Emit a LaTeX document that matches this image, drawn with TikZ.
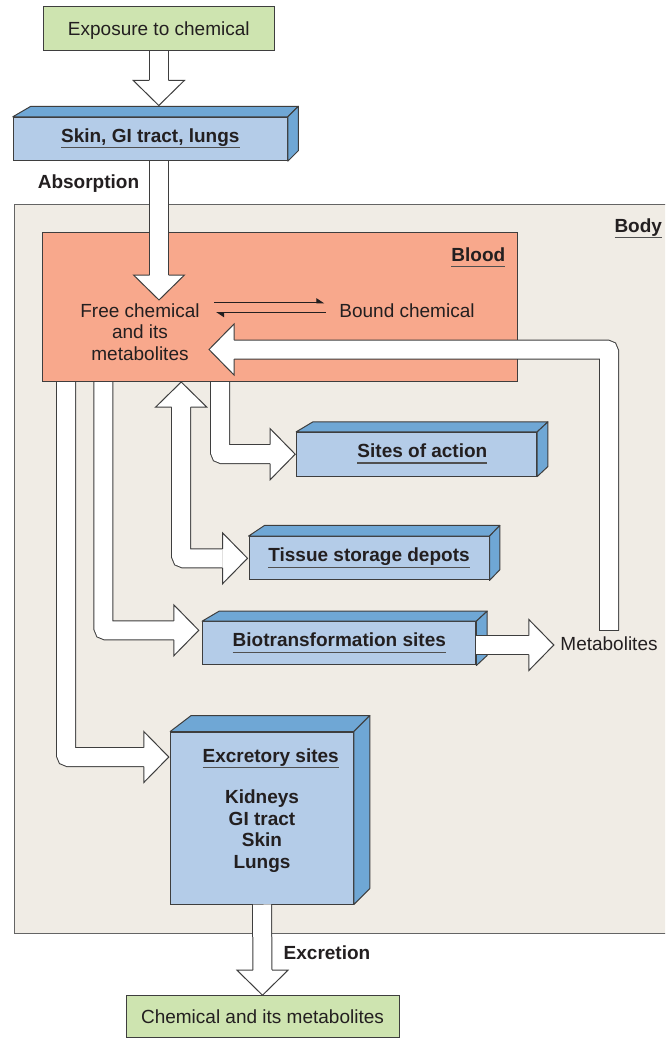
\documentclass[tikz,border=0pt]{standalone}
\usepackage{fontspec}
\setmainfont{Liberation Sans}
\usepackage{xcolor}
\usepackage{tikz}
\usetikzlibrary{arrows.meta,positioning,calc}

\definecolor{ink}{RGB}{35,31,32}
\definecolor{edge}{RGB}{62,62,62}
\definecolor{bodyedge}{RGB}{100,100,100}
\definecolor{ulgray}{RGB}{80,80,80}
\definecolor{expogreen}{RGB}{206,228,176}
\definecolor{slabfront}{RGB}{180,204,232}
\definecolor{slabside}{RGB}{111,167,213}
\definecolor{bloodfill}{RGB}{248,168,140}
\definecolor{bodyfill}{RGB}{240,236,229}

\newcommand\figfont{\fontsize{19}{21.7}\selectfont}
% underlined heading, rule at a fixed depth
\newcommand\ulbl[1]{\leavevmode\setbox0=\hbox{#1}\rlap{\color{ulgray}\rule[-6.2pt]{\wd0}{1.2pt}}\box0}
% top and right faces of a 3D slab: node, left dx, right dx, depth
\newcommand\slabfaces[4]{%
  \filldraw[slabside, draw=edge, line width=1pt, line join=round] (#1.north west) -- ++(#2,-#4) -- ($(#1.north east)+(#3,-#4)$) -- (#1.north east) -- cycle;
  \filldraw[slabside, draw=edge, line width=1pt, line join=round] (#1.north east) -- ++(#3,-#4) -- ($(#1.south east)+(#3,-#4)$) -- (#1.south east) -- cycle;}
% head of a fat arrow, tip at #1, pointing at angle #2
\newcommand\drawhead[2]{\draw[fathead, shift={(#1)}, rotate=#2] (-25,9.5) -- (-25,25.5) -- (0,0) -- (-25,-25.5) -- (-25,-9.5);}

\begin{document}
\begin{tikzpicture}[
    x=1pt, y=-1pt,
    font=\figfont,
    txt/.style={text=ink, inner sep=0pt, text height=15pt, text depth=0.6pt},
    boldtxt/.style={txt, font=\figfont\bfseries},
    startbox/.style={rectangle, draw=edge, fill=expogreen, line width=1pt, txt},
    slab/.style={rectangle, draw=edge, fill=slabfront, line width=1pt, inner sep=0pt, text=ink, font=\figfont\bfseries, text height=13pt, text depth=6.5pt},
    fatshaft/.style={draw=edge, line width=1pt, double=white, double distance=18pt, rounded corners=2.5pt},
    fathead/.style={draw=edge, fill=white, line width=1pt, line join=miter},
    harp/.style={draw=ink, line width=1.2pt, -{Triangle[left, length=7pt, width=9pt]}}
]
    \useasboundingbox (0,0) rectangle (665,1038);
    \clip (0,0) rectangle (665,1038);
    \fill[white] (0,0) rectangle (665,1038);

    % body and blood compartments
    \node[rectangle, draw=bodyedge, fill=bodyfill, line width=1pt, minimum width=667pt, minimum height=729pt] (body) at (347.5,568.5) {};
    \node[rectangle, draw=edge, fill=bloodfill, line width=1pt, minimum width=475.3pt, minimum height=148.8pt] (blood) at (280.05,307.1) {};
    \node[boldtxt, anchor=base east] (bodylbl) at ([xshift=-19.3pt,yshift=-28.7pt]body.north east) {\ulbl{Body}};
    \node[boldtxt, anchor=base east] (bloodlbl) at ([xshift=-12.7pt,yshift=-29pt]blood.north east) {\ulbl{Blood}};

    % entry and exit
    \node[startbox, minimum width=231pt, minimum height=44pt] (expo) at (158.8,28.7) {Exposure to chemical};
    \node[startbox, minimum width=273pt, minimum height=41.8pt] (chem) at (262.5,1016.6) {Chemical and its metabolites};

    % slabs
    \node[slab, minimum width=274pt, minimum height=43.4pt] (skin) at (150.3,139) {\ulbl{Skin, GI tract, lungs}};
    \node[slab, minimum width=240pt, minimum height=43.7pt] (sites) at (416.7,454.2) {\hspace*{11.4pt}\ulbl{Sites of action}};
    \node[slab, minimum width=240pt, minimum height=43.3pt] (tissue) at (369,558.3) {\ulbl{Tissue storage depots}};
    \node[slab, minimum width=273.3pt, minimum height=43.3pt] (biotrans) at (339.3,643.3) {\ulbl{Biotransformation sites}};
    \node[slab, minimum width=182.6pt, minimum height=172pt] (excr) at (262,818) {};
    \slabfaces{skin}{18}{10.5}{10.5}
    \slabfaces{sites}{16.7}{10.7}{10}
    \slabfaces{tissue}{16}{10.3}{10.7}
    \slabfaces{biotrans}{17}{10.7}{10}
    \slabfaces{excr}{21}{16}{16}
    \node[font=\figfont\bfseries, text=ink, align=center, inner sep=0pt, anchor=north] (excrlist) at ([yshift=-16.8pt]excr.north) {\hspace*{17.4pt}\ulbl{Excretory sites}\\[19.6pt]Kidneys\\GI tract\\Skin\\Lungs};

    % free and bound chemical
    \node[font=\figfont, text=ink, align=center, inner sep=0pt] (free) at (140,332) {Free chemical\\and its\\metabolites};
    \node[txt] (bound) at (407,310.1) {Bound chemical};
    \coordinate (eqtop) at ([yshift=7.4pt]bound.west);
    \coordinate (eqbot) at ([yshift=-2.6pt]bound.west);
    \draw[harp, shorten <=14.3pt, shorten >=15pt] (eqtop -| free.east) -- (eqtop);
    \draw[harp, shorten <=13.3pt, shorten >=16.3pt] (eqbot) -- (eqbot -| free.east);

    % side labels
    \node[boldtxt] (absorb) at (88.5,181.5) {Absorption};
    \node[boldtxt] (excret) at (327,952) {Excretion};
    \node[txt] (metab) at (609,643.5) {Metabolites};

    % arrow tips and bends
    \coordinate (intake) at ([yshift=-54.3pt]expo.south);
    \coordinate (absorbtip) at (159,300);
    \coordinate (sitestip) at ([xshift=-1pt]sites.west);
    \coordinate (sitesbend) at ([xshift=-75.2pt]sitestip);
    \coordinate (tissuetip) at ([xshift=-1pt]tissue.west);
    \coordinate (tissuebend) at ([xshift=-66.3pt]tissuetip);
    \coordinate (tissuetop) at (tissuebend |- blood.south);
    \coordinate (biotip) at ([xshift=-3.4pt,yshift=13pt]biotrans.west);
    \coordinate (biobend) at ([xshift=-95.3pt]biotip);
    \coordinate (excrtip) at ([xshift=-1.4pt,yshift=61pt]excr.west);
    \coordinate (excrbend) at ([xshift=-102.8pt]excrtip);
    \coordinate (mtip) at ([xshift=-6.4pt,yshift=-1.5pt]metab.west);
    \coordinate (backtip) at (209,349.5);

    % fat arrows
    \draw[fatshaft] (expo.south) -- ([yshift=25pt]intake);
    \drawhead{intake}{-90}
    \draw[fatshaft] (absorbtip |- skin.south) -- ([yshift=25pt]absorbtip);
    \drawhead{absorbtip}{-90}
    \draw[fatshaft] (blood.south -| sitesbend) -- (sitesbend) -- ([xshift=-25pt]sitestip);
    \drawhead{sitestip}{0}
    \draw[fatshaft] ([yshift=-25pt]tissuetop) -- (tissuebend) -- ([xshift=-25pt]tissuetip);
    \drawhead{tissuetop}{90}
    \drawhead{tissuetip}{0}
    \draw[fatshaft] (blood.south -| biobend) -- (biobend) -- ([xshift=-25pt]biotip);
    \drawhead{biotip}{0}
    \draw[fatshaft] (blood.south -| excrbend) -- (excrbend) -- ([xshift=-25pt]excrtip);
    \drawhead{excrtip}{0}
    \draw[fatshaft] (excr.south) -- ([yshift=25pt]chem.north);
    \drawhead{chem.north}{-90}
    \draw[fatshaft] (biotrans.east |- mtip) -- ([xshift=-25pt]mtip);
    \drawhead{mtip}{0}
    \draw[fatshaft] ([yshift=5pt]metab.north) |- ([xshift=25pt]backtip);
    \draw[draw=edge, line width=1pt] ([xshift=-10pt,yshift=5pt]metab.north) -- ([xshift=10pt,yshift=5pt]metab.north);
    \drawhead{backtip}{180}
\end{tikzpicture}
\end{document}
